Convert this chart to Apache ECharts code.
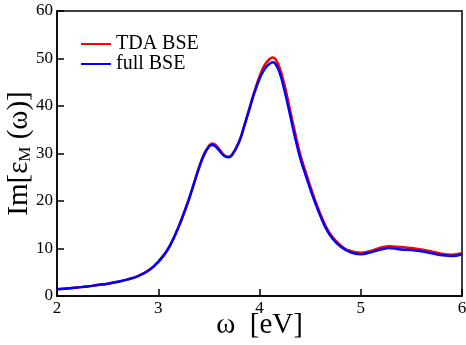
<!DOCTYPE html>
<html>
<head>
<meta charset="utf-8">
<script src="https://cdn.jsdelivr.net/npm/echarts@6/dist/echarts.min.js"></script>
<style>
  html, body { margin: 0; padding: 0; background: #fff; }
  #main { width: 466px; height: 345px; }
</style>
</head>
<body>
<div id="main"></div>
<script>
// photon energy (eV)
var energy = [2.0, 2.1, 2.2, 2.3, 2.4, 2.5, 2.6, 2.7, 2.8, 2.9,
  3.0, 3.1, 3.2, 3.3, 3.35, 3.4, 3.45, 3.5, 3.53, 3.56, 3.6, 3.65, 3.69, 3.73, 3.8, 3.85, 3.9, 3.95,
  4.0, 4.05, 4.1, 4.13, 4.16, 4.2, 4.25, 4.3, 4.35, 4.4, 4.45, 4.5, 4.55, 4.6, 4.65, 4.7, 4.75, 4.8, 4.85, 4.9, 4.95,
  5.0, 5.1, 5.2, 5.28, 5.4, 5.5, 5.6, 5.7, 5.8, 5.9, 6.0];

// Im[eps_M]
var tdaBse = [1.4, 1.6, 1.8, 2.0, 2.3, 2.6, 3.0, 3.5, 4.2, 5.3,
  7.2, 10.0, 14.5, 20.2, 23.5, 26.9, 29.8, 31.6, 32.1, 31.9, 31.0, 29.7, 29.3, 29.8, 32.6, 35.9, 39.5, 43.1,
  46.2, 48.6, 49.9, 50.2, 49.8, 48.0, 44.2, 39.3, 34.5, 30.0, 26.5, 23.2, 20.1, 17.3, 14.9, 13.0, 11.7, 10.7, 9.9, 9.5, 9.2,
  9.1, 9.5, 10.2, 10.5, 10.3, 10.1, 9.8, 9.4, 8.9, 8.7, 9.0];

var fullBse = [1.4, 1.6, 1.8, 2.0, 2.3, 2.6, 3.0, 3.5, 4.2, 5.3,
  7.2, 10.0, 14.5, 20.2, 23.5, 26.8, 29.6, 31.4, 31.8, 31.6, 30.7, 29.5, 29.2, 29.7, 32.5, 35.8, 39.3, 42.8,
  45.7, 47.8, 48.9, 49.2, 48.8, 47.0, 43.0, 38.3, 33.5, 29.2, 25.8, 22.6, 19.6, 16.9, 14.5, 12.7, 11.4, 10.4, 9.7, 9.2, 8.9,
  8.8, 9.2, 9.8, 10.1, 9.8, 9.7, 9.4, 9.0, 8.6, 8.4, 8.8];

var serif = "'Liberation Serif', 'DejaVu Serif', serif";

function pairs(ys) {
  return energy.map(function (x, i) { return [x, ys[i]]; });
}

var chartDom = document.getElementById('main');
var myChart = echarts.init(chartDom);

myChart.setOption({
  animation: false,
  grid: {
    left: 57, right: 4, top: 11, bottom: 49,
    outerBoundsMode: 'none',
    containLabel: false,
    show: true, borderColor: '#000', borderWidth: 1.5
  },
  legend: {
    orient: 'vertical',
    left: 76, top: 29,
    itemWidth: 30, itemHeight: 2, itemGap: 0,
    icon: 'rect',
    textStyle: { fontFamily: serif, fontSize: 20, color: '#000', lineHeight: 20 },
    data: ['TDA BSE', 'full BSE']
  },
  xAxis: {
    type: 'value',
    min: 2, max: 6, interval: 1,
    name: 'ω  [eV]',
    nameLocation: 'middle',
    nameGap: 15,
    nameMoveOverlap: false,
    nameTextStyle: { fontFamily: serif, fontSize: 29, color: '#000', verticalAlign: 'top' },
    axisLine: { lineStyle: { color: '#000', width: 1.5 } },
    axisTick: { inside: true, length: 7, lineStyle: { color: '#000', width: 1.5 } },
    axisLabel: { fontFamily: serif, fontSize: 17, color: '#000', margin: 4 },
    splitLine: { show: false }
  },
  yAxis: {
    type: 'value',
    min: 0, max: 60, interval: 10,
    name: '{a|Im[ε}{b|M}{a| (ω)]}',
    nameLocation: 'middle',
    nameGap: 23,
    nameMoveOverlap: false,
    nameTextStyle: {
      rich: {
        a: { fontFamily: serif, fontSize: 29, color: '#000' },
        b: { fontFamily: serif, fontSize: 17, color: '#000', verticalAlign: 'bottom', padding: [10, 0, 0, 0] }
      }
    },
    axisLine: { lineStyle: { color: '#000', width: 1.5 } },
    axisTick: { inside: true, length: 7, lineStyle: { color: '#000', width: 1.5 } },
    axisLabel: { fontFamily: serif, fontSize: 17, color: '#000', margin: 4 },
    splitLine: { show: false }
  },
  series: [
    {
      name: 'TDA BSE',
      type: 'line',
      smooth: 0.4,
      symbol: 'none',
      color: '#ff0000',
      lineStyle: { width: 2.5, color: '#ff0000' },
      data: pairs(tdaBse)
    },
    {
      name: 'full BSE',
      type: 'line',
      smooth: 0.4,
      symbol: 'none',
      color: '#0000ff',
      lineStyle: { width: 2.5, color: '#0000ff' },
      data: pairs(fullBse)
    }
  ]
});

window.addEventListener('resize', myChart.resize);
</script>
</body>
</html>
